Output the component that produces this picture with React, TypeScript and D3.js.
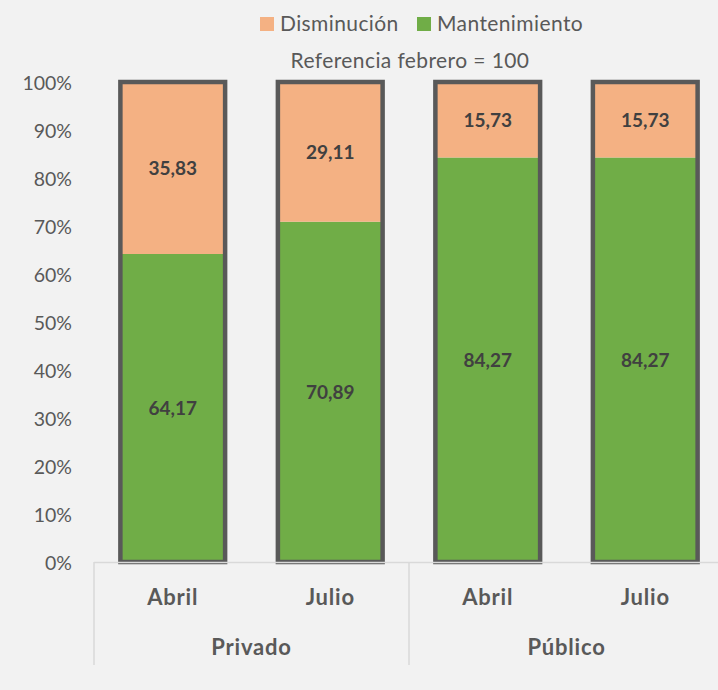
import React from "react";
import * as d3 from "d3";

const groups = ["Privado", "Público"];
const months = ["Abril", "Julio"];
const mantenimiento = [64.17, 70.89, 84.27, 84.27];
const disminucion = [35.83, 29.11, 15.73, 15.73];
const yTicks = [0, 10, 20, 30, 40, 50, 60, 70, 80, 90, 100];

const W = 718;
const H = 690;
const FONT = "Lato, 'Open Sans', sans-serif";
const ORANGE = "#F4B183";
const GREEN = "#70AD47";
const EDGE = "#595959";

const App = () => {
  const keys = groups.flatMap((g) => months.map((m) => `${g}-${m}`));
  const rows = keys.map((k, i) => ({
    key: k,
    month: months[i % months.length],
    mant: mantenimiento[i],
    dism: disminucion[i],
  }));

  const x = d3.scaleBand().domain(keys).range([94, 724]).paddingInner(0.335).paddingOuter(0.1675);
  const y = d3.scaleLinear().domain([0, 100]).range([562, 82]);
  const fmt = (v) => d3.format(".2f")(v).replace(".", ",");

  const stack = d3.stack().keys(["mant", "dism"])(rows);
  const colors = { mant: GREEN, dism: ORANGE };

  const groupStep = x.step() * months.length;

  return (
    <svg width={W} height={H} style={{ position: "absolute", left: 0, top: 0, display: "block" }}>
      <rect x={0} y={0} width={W} height={H} fill="#F2F2F2" />

      {/* legend */}
      <g fontFamily={FONT} fontSize={21} letterSpacing={0.4} fill="#595959">
        <rect x={260} y={17} width={14} height={14} fill={ORANGE} />
        <text x={280} y={31}>Disminución</text>
        <rect x={417} y={17} width={14} height={14} fill={GREEN} />
        <text x={437} y={31}>Mantenimiento</text>
        <text x={410} y={68} textAnchor="middle">Referencia febrero = 100</text>
      </g>

      {/* y axis labels */}
      <g fontFamily={FONT} fontSize={19.5} fill="#595959">
        {yTicks.map((t) => (
          <text key={t} x={72} y={y(t)} textAnchor="end" dominantBaseline="central">
            {t}%
          </text>
        ))}
      </g>

      {/* bars */}
      {rows.map((r, i) => (
        <g key={r.key}>
          {stack.map((s) => (
            <rect
              key={s.key}
              x={x(r.key)}
              y={y(s[i][1])}
              width={x.bandwidth()}
              height={y(s[i][0]) - y(s[i][1])}
              fill={colors[s.key]}
            />
          ))}
          <rect
            x={x(r.key)}
            y={y(100)}
            width={x.bandwidth()}
            height={y(0) - y(100)}
            fill="none"
            stroke={EDGE}
            strokeWidth={4.5}
          />
        </g>
      ))}

      {/* data labels */}
      <g fontFamily={FONT} fontSize={19} fontWeight="bold" fill="#404040">
        {stack.map((s) =>
          s.map((d, i) => (
            <text
              key={s.key + i}
              x={x(rows[i].key) + x.bandwidth() / 2}
              y={(y(d[0]) + y(d[1])) / 2}
              textAnchor="middle"
              dominantBaseline="central"
            >
              {fmt(d[1] - d[0])}
            </text>
          ))
        )}
      </g>

      {/* category axis */}
      <line x1={94} x2={W} y1={562.5} y2={562.5} stroke="#D9D9D9" strokeWidth={1.5} />
      {groups.map((g, gi) => {
        const x0 = 94 + gi * groupStep;
        return (
          <line key={g} x1={x0} x2={x0} y1={562} y2={665} stroke="#D9D9D9" strokeWidth={1.5} />
        );
      })}
      <g fontFamily={FONT} fontSize={22} letterSpacing={0.8} fontWeight="bold" fill="#595959" textAnchor="middle">
        {rows.map((r) => (
          <text key={r.key} x={x(r.key) + x.bandwidth() / 2} y={605}>
            {r.month}
          </text>
        ))}
        {groups.map((g, gi) => (
          <text key={g} x={94 + gi * groupStep + groupStep / 2} y={655}>
            {g}
          </text>
        ))}
      </g>
    </svg>
  );
};

export default App;
